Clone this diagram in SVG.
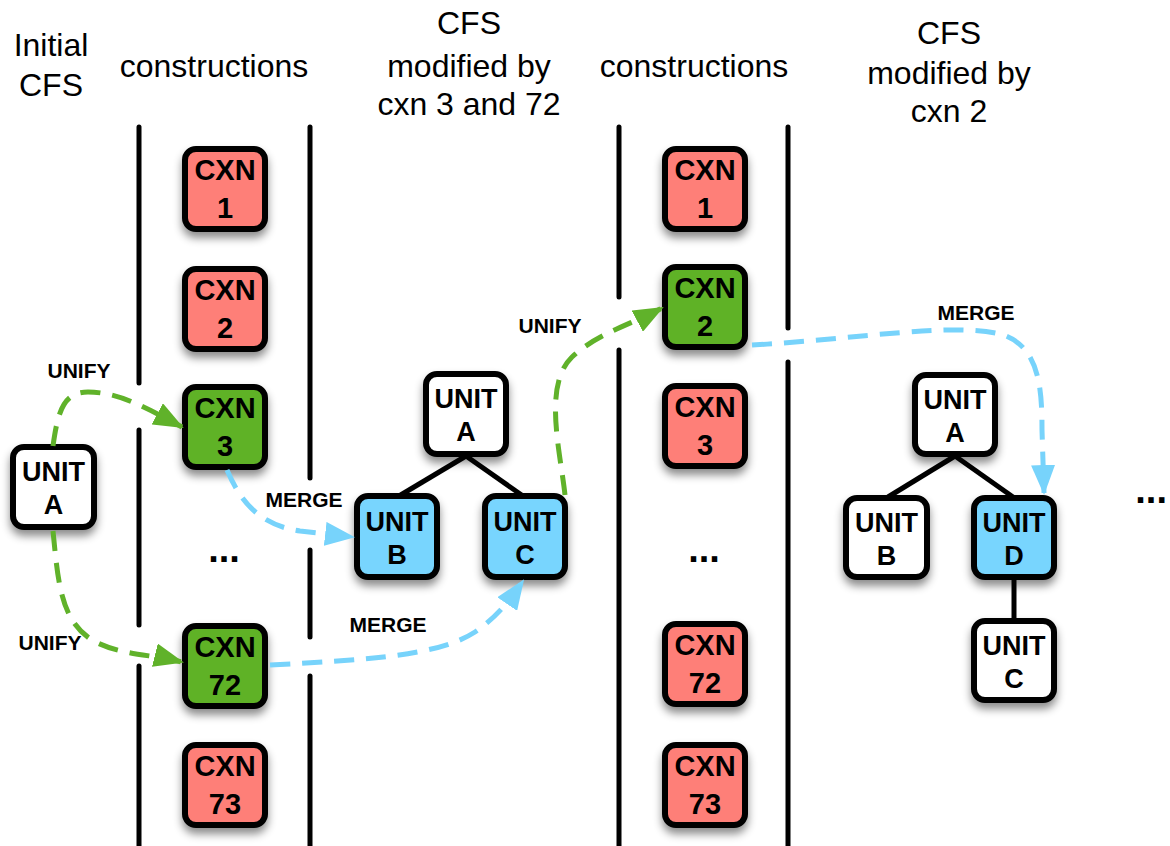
<svg xmlns="http://www.w3.org/2000/svg" width="1170" height="846" viewBox="0 0 1170 846">
<style>
.hd{font-family:"Liberation Sans",Arial,Helvetica,sans-serif;font-size:32px;fill:#000;text-anchor:middle}
.bx{stroke:#000;stroke-width:6}
.red{fill:#FE7F78}
.grn{fill:#5EB227}
.blu{fill:#78D5FE}
.wht{fill:#fff}
.bt{font-family:"Liberation Sans",Arial,Helvetica,sans-serif;font-weight:bold;font-size:29px;fill:#000;text-anchor:middle}
.ut{font-family:"Liberation Sans",Arial,Helvetica,sans-serif;font-weight:bold;font-size:27px;fill:#000;text-anchor:middle}
.lb{font-family:"Liberation Sans",Arial,Helvetica,sans-serif;font-weight:bold;font-size:21px;fill:#000;text-anchor:middle}
.dots{font-family:"Liberation Sans",Arial,Helvetica,sans-serif;font-weight:bold;font-size:38px;fill:#000;text-anchor:middle}
.div{stroke:#000;stroke-width:5;stroke-linecap:round;fill:none}
.tree{stroke:#000;stroke-width:5;fill:none}
.ga{stroke:#60B22A;stroke-width:5;fill:none;stroke-dasharray:20 12;marker-end:url(#ag)}
.ba{stroke:#77D3FB;stroke-width:5;fill:none;stroke-dasharray:20 12;marker-end:url(#ab)}
</style>
<defs>
<filter id="sh" x="-30%" y="-30%" width="160%" height="170%">
<feDropShadow dx="0" dy="6" stdDeviation="4" flood-color="#000" flood-opacity="0.45"/>
</filter>
<marker id="ag" markerUnits="userSpaceOnUse" markerWidth="30" markerHeight="24" viewBox="0 0 30 24" refX="28" refY="12" orient="auto">
<path d="M0,0 L30,12 L0,24 z" fill="#60B22A"/>
</marker>
<marker id="ab" markerUnits="userSpaceOnUse" markerWidth="30" markerHeight="24" viewBox="0 0 30 24" refX="28" refY="12" orient="auto">
<path d="M0,0 L30,12 L0,24 z" fill="#77D3FB"/>
</marker>
</defs>
<rect width="1170" height="846" fill="#fff"/>

<g id="headings">
<text class="hd" x="51" y="56">Initial</text>
<text class="hd" x="51" y="96">CFS</text>
<text class="hd" x="214" y="77">constructions</text>
<text class="hd" x="469" y="34">CFS</text>
<text class="hd" x="469" y="77">modified by</text>
<text class="hd" x="469" y="115">cxn 3 and 72</text>
<text class="hd" x="694" y="77">constructions</text>
<text class="hd" x="949" y="44">CFS</text>
<text class="hd" x="949" y="84">modified by</text>
<text class="hd" x="949" y="122">cxn 2</text>
</g>

<g id="dividers">
<line class="div" x1="139" y1="127" x2="139" y2="383"/>
<line class="div" x1="139" y1="430" x2="139" y2="625"/>
<line class="div" x1="139" y1="666" x2="139" y2="850"/>
<line class="div" x1="310" y1="127" x2="310" y2="478"/>
<line class="div" x1="310" y1="550" x2="310" y2="637"/>
<line class="div" x1="310" y1="676" x2="310" y2="850"/>
<line class="div" x1="619" y1="127" x2="619" y2="297"/>
<line class="div" x1="619" y1="350" x2="619" y2="850"/>
<line class="div" x1="788" y1="127" x2="788" y2="328"/>
<line class="div" x1="788" y1="362" x2="788" y2="850"/>
</g>

<g id="tree-lines">
<line class="tree" x1="466" y1="456" x2="399" y2="496"/>
<line class="tree" x1="466" y1="456" x2="523" y2="496"/>
<line class="tree" x1="955" y1="456" x2="888" y2="497"/>
<line class="tree" x1="955" y1="456" x2="1013" y2="497"/>
<line class="tree" x1="1014" y1="578" x2="1014" y2="621"/>
</g>

<g id="cxn1a"><rect class="bx red" x="185" y="149" width="80" height="80" rx="11" filter="url(#sh)"/><text class="bt" x="225" y="180">CXN</text><text class="bt" x="225" y="218">1</text></g>
<g id="cxn2a"><rect class="bx red" x="185" y="269" width="80" height="80" rx="11" filter="url(#sh)"/><text class="bt" x="225" y="300">CXN</text><text class="bt" x="225" y="338">2</text></g>
<g id="cxn3a"><rect class="bx grn" x="185" y="387" width="80" height="80" rx="11" filter="url(#sh)"/><text class="bt" x="225" y="418">CXN</text><text class="bt" x="225" y="456">3</text></g>
<g id="dotsa"><text class="dots" x="224" y="562">...</text></g>
<g id="cxn72a"><rect class="bx grn" x="185" y="626" width="80" height="80" rx="11" filter="url(#sh)"/><text class="bt" x="225" y="657">CXN</text><text class="bt" x="225" y="695">72</text></g>
<g id="cxn73a"><rect class="bx red" x="185" y="745" width="80" height="80" rx="11" filter="url(#sh)"/><text class="bt" x="225" y="776">CXN</text><text class="bt" x="225" y="814">73</text></g>

<g id="cxn1b"><rect class="bx red" x="665" y="149" width="80" height="80" rx="11" filter="url(#sh)"/><text class="bt" x="705" y="180">CXN</text><text class="bt" x="705" y="218">1</text></g>
<g id="cxn2b"><rect class="bx grn" x="665" y="267" width="80" height="80" rx="11" filter="url(#sh)"/><text class="bt" x="705" y="298">CXN</text><text class="bt" x="705" y="336">2</text></g>
<g id="cxn3b"><rect class="bx red" x="665" y="386" width="80" height="80" rx="11" filter="url(#sh)"/><text class="bt" x="705" y="417">CXN</text><text class="bt" x="705" y="455">3</text></g>
<g id="dotsb"><text class="dots" x="704" y="562">...</text></g>
<g id="cxn72b"><rect class="bx red" x="665" y="624" width="80" height="80" rx="11" filter="url(#sh)"/><text class="bt" x="705" y="655">CXN</text><text class="bt" x="705" y="693">72</text></g>
<g id="cxn73b"><rect class="bx red" x="665" y="745" width="80" height="80" rx="11" filter="url(#sh)"/><text class="bt" x="705" y="776">CXN</text><text class="bt" x="705" y="814">73</text></g>

<g id="unitA0"><rect class="bx wht" x="13" y="447" width="81" height="80" rx="11" filter="url(#sh)"/><text class="ut" x="53.5" y="481">UNIT</text><text class="ut" x="53.5" y="514">A</text></g>

<g id="unitA1"><rect class="bx wht" x="426" y="374" width="80" height="80" rx="11" filter="url(#sh)"/><text class="ut" x="466" y="408">UNIT</text><text class="ut" x="466" y="441">A</text></g>
<g id="unitB1"><rect class="bx blu" x="357" y="496" width="80" height="81" rx="11" filter="url(#sh)"/><text class="ut" x="397" y="531">UNIT</text><text class="ut" x="397" y="564">B</text></g>
<g id="unitC1"><rect class="bx blu" x="485" y="496" width="80" height="81" rx="11" filter="url(#sh)"/><text class="ut" x="525" y="531">UNIT</text><text class="ut" x="525" y="564">C</text></g>

<g id="unitA2"><rect class="bx wht" x="915" y="375" width="80" height="79" rx="11" filter="url(#sh)"/><text class="ut" x="955" y="409">UNIT</text><text class="ut" x="955" y="442">A</text></g>
<g id="unitB2"><rect class="bx wht" x="846" y="498" width="81" height="79" rx="11" filter="url(#sh)"/><text class="ut" x="886.5" y="532">UNIT</text><text class="ut" x="886.5" y="565">B</text></g>
<g id="unitD2"><rect class="bx blu" x="974" y="498" width="80" height="79" rx="11" filter="url(#sh)"/><text class="ut" x="1014" y="532">UNIT</text><text class="ut" x="1014" y="565">D</text></g>
<g id="unitC2"><rect class="bx wht" x="974" y="621" width="80" height="79" rx="11" filter="url(#sh)"/><text class="ut" x="1014" y="655">UNIT</text><text class="ut" x="1014" y="688">C</text></g>

<g id="dotsc"><text class="dots" x="1167" y="503" style="text-anchor:end">...</text></g>

<g id="connectors">
<path class="ga" d="M53,446 C58,410 64,392 88,392 C120,392 150,410 182,427"/>
<path class="ga" d="M53,531 C58,580 60,620 92,640 C118,655 150,654 182,662"/>
<path class="ba" d="M227,470 C240,500 258,525 300,531 L353,537"/>
<path class="ba" d="M270,665 C370,660 440,655 475,632 C497,617 510,600 523,581"/>
<path class="ga" d="M565,495 C560,450 543,385 572,357 C598,333 630,325 662,308"/>
<path class="ba" d="M752,345 C850,340 950,322 1000,334 C1040,345 1042,390 1042,430 L1044,493"/>
<text class="lb" x="79" y="378">UNIFY</text>
<text class="lb" x="50" y="650">UNIFY</text>
<text class="lb" x="304" y="507">MERGE</text>
<text class="lb" x="388" y="632">MERGE</text>
<text class="lb" x="550" y="333">UNIFY</text>
<text class="lb" x="976" y="320">MERGE</text>
</g>
</svg>
